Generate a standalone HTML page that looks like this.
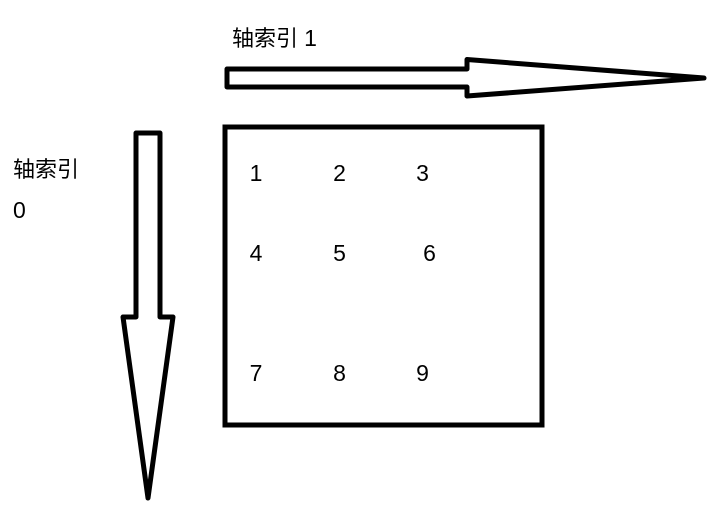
<!DOCTYPE html>
<html lang="zh">
<head>
<meta charset="utf-8">
<title>轴索引示意图</title>
<style>
html,body{margin:0;padding:0;background:#fff;}
svg{display:block;}
text{font-family:"Liberation Sans","Noto Sans CJK SC",sans-serif;font-size:22px;fill:#000;}
.d{font-size:23px;}
.a{fill:none;stroke:#000;stroke-width:5;stroke-linejoin:round;}
</style>
</head>
<body>
<svg width="708" height="519" viewBox="0 0 708 519" xmlns="http://www.w3.org/2000/svg">
  <polygon class="a" points="227,69 467,69 467,59.5 704,78 467,96 467,87 227,87"/>
  <polygon class="a" points="136,133 160,133 160,317 173,317 148,498 123,317 136,317"/>
  <rect x="225" y="127" width="317" height="298" fill="none" stroke="#000" stroke-width="5"/>
  <text x="232" y="46">轴索引 <tspan class="d">1</tspan></text>
  <text x="13" y="177">轴索引</text>
  <text class="d" x="13" y="218">0</text>
  <text class="d" x="256" y="181" text-anchor="middle">1</text>
  <text class="d" x="339.500" y="181" text-anchor="middle">2</text>
  <text class="d" x="422.500" y="181" text-anchor="middle">3</text>
  <text class="d" x="256" y="261" text-anchor="middle">4</text>
  <text class="d" x="339.500" y="261" text-anchor="middle">5</text>
  <text class="d" x="429.500" y="261" text-anchor="middle">6</text>
  <text class="d" x="256" y="381" text-anchor="middle">7</text>
  <text class="d" x="339.500" y="381" text-anchor="middle">8</text>
  <text class="d" x="422.500" y="381" text-anchor="middle">9</text>
</svg>
</body>
</html>
